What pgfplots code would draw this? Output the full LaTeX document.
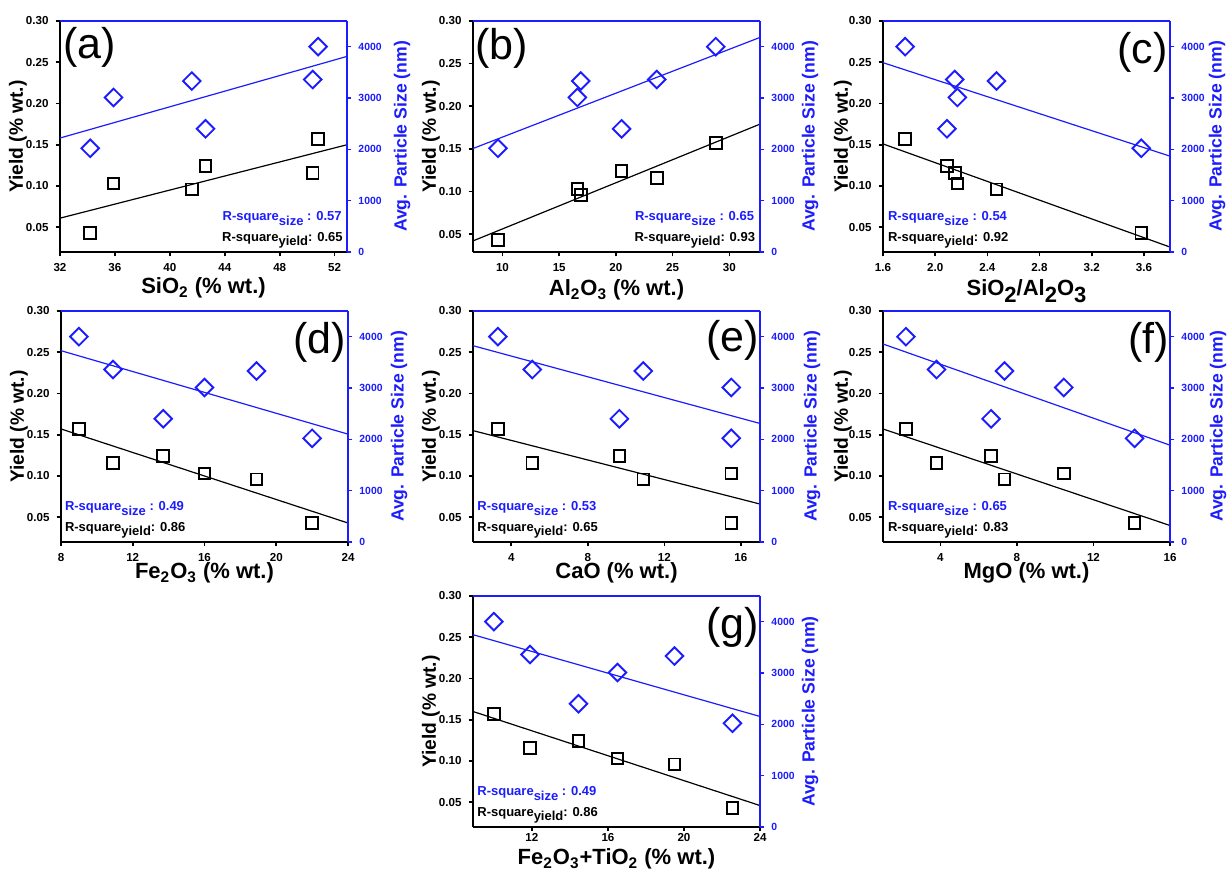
\documentclass[border=0pt]{standalone}
\usepackage{fontspec}
\setmainfont{Liberation Sans}
\usepackage{pgfplots}
\usepackage{pgfplotstable}
\pgfplotsset{compat=1.18}
\definecolor{myblue}{RGB}{28,28,255}
\newcommand\tickfont{\bfseries\fontsize{5.8}{6}\selectfont}
\newcommand\tickfontr{\bfseries\fontsize{5.2}{6}\selectfont}
\newcommand\labfont{\bfseries\fontsize{9.6}{10}\selectfont}
\newcommand\labfontr{\bfseries\fontsize{8.8}{10}\selectfont}
\newcommand\xlabfont{\bfseries\fontsize{11}{13}\selectfont}
\newcommand\rfont{\bfseries\fontsize{6.5}{7.5}\selectfont}
\newcommand\letterfont{\fontsize{21.5}{24}\selectfont}
\newcommand\sub[1]{\raisebox{-0.6ex}{#1}}
\newcommand\chem[1]{\textsubscript{#1}}

% columns: x = oxide content, y = yield (% wt.), s = avg. particle size (nm)
\pgfplotstableread{
x y s
34.2 0.043 2020
35.9 0.103 3010
41.6 0.096 3330
42.6 0.124 2400
50.4 0.116 3360
50.8 0.157 4000
}\tabA
\pgfplotstableread{
x y s
9.6 0.043 2020
16.6 0.103 3010
16.9 0.096 3330
20.5 0.124 2400
23.6 0.116 3360
28.8 0.157 4000
}\tabB
\pgfplotstableread{
x y s
3.58 0.043 2020
2.17 0.103 3010
2.47 0.096 3330
2.09 0.124 2400
2.15 0.116 3360
1.77 0.157 4000
}\tabC
\pgfplotstableread{
x y s
22.0 0.043 2020
16.0 0.103 3010
18.9 0.096 3330
13.7 0.124 2400
10.9 0.116 3360
9.0 0.157 4000
}\tabD
\pgfplotstableread{
x y s
15.5 0.043 2020
15.5 0.103 3010
10.9 0.096 3330
9.65 0.124 2400
5.1 0.116 3360
3.3 0.157 4000
}\tabE
\pgfplotstableread{
x y s
14.15 0.043 2020
10.45 0.103 3010
7.35 0.096 3330
6.65 0.124 2400
3.8 0.116 3360
2.2 0.157 4000
}\tabF
\pgfplotstableread{
x y s
22.55 0.043 2020
16.5 0.103 3010
19.5 0.096 3330
14.45 0.124 2400
11.9 0.116 3360
10.0 0.157 4000
}\tabG

\pgfplotsset{
  base/.style={scale only axis, width=143.5pt, height=115.5pt, anchor=north west,
    tick align=outside, major tick length=2.2pt,
    /pgf/number format/assume math mode=true,
    every outer x axis line/.append style={-},
    every outer y axis line/.append style={-},
    every inner x axis line/.append style={-},
    every inner y axis line/.append style={-},
    x axis line style={-}, y axis line style={-}},
  yieldax/.style={base, axis x line*=bottom, axis y line*=left,
    axis line style={line width=1pt, black, -},
    tick style={line width=0.8pt, black},
    ymin=0.02, ymax=0.30, ytick={0.05,0.10,0.15,0.20,0.25,0.30},
    yticklabel style={font=\tickfont, /pgf/number format/.cd, fixed, fixed zerofill, precision=2},
    xticklabel style={font=\tickfont},
    every axis y label/.style={at={(rel axis cs:0,0.5)}, xshift=#1, rotate=90, anchor=center, font=\labfont},
    every axis x label/.style={at={(rel axis cs:0.5,0)}, anchor=base, font=\xlabfont},
    ylabel={Yield (\% wt.)}},
  yieldax/.default=-21pt,
  sizeax/.style={base, axis x line*=top, axis y line*=right,
    axis line style={line width=1pt, myblue, -},
    tick style={line width=0.8pt, myblue},
    xtick=\empty,
    ymin=0, ymax=4500, ytick={0,1000,2000,3000,4000}, scaled y ticks=false,
    yticklabel style={font=\tickfontr, text=myblue, /pgf/number format/1000 sep={}},
    every axis y label/.style={at={(rel axis cs:1,0.5)}, xshift=#1, rotate=90, anchor=center, font=\labfontr, text=myblue},
    ylabel={Avg. Particle Size (nm)}},
  sizeax/.default=25pt,
  ym/.style={black, line width=0.95pt, only marks, mark=square, mark size=2.9pt},
  sm/.style={myblue, line width=0.95pt, only marks, mark=square, mark size=3.1pt, mark options={rotate=45}},
  yf/.style={black, line width=0.6pt, no marks},
  sf/.style={myblue, line width=0.6pt, no marks},
}

\begin{document}
\begin{tikzpicture}
\useasboundingbox (0,0) rectangle (613.5pt,-435pt);

% ---------------- (a)
\begin{axis}[yieldax, at={(30pt,-10.5pt)}, xmin=32, xmax=52.9, xtick={32,36,40,44,48,52},
  xlabel={SiO\chem{2} (\% wt.)}, xlabel style={yshift=-21pt}]
\addplot[yf] coordinates {(32,0.061) (52.9,0.150)};
\addplot[ym] table[x=x,y=y]{\tabA};
\node[anchor=north west, inner sep=0, font=\letterfont, xshift=1.5pt, yshift=-3pt] at (rel axis cs:0,1) {(a)};
\node[anchor=base east, inner sep=0, font=\rfont, text=myblue, xshift=-2.5pt, yshift=15.5pt] at (rel axis cs:1,0) {R-square\sub{size} : 0.57};
\node[anchor=base east, inner sep=0, font=\rfont, xshift=-2pt, yshift=5.3pt] at (rel axis cs:1,0) {R-square\sub{yield}: 0.65};
\end{axis}
\begin{axis}[sizeax=27.5pt, at={(30pt,-10.5pt)}, xmin=32, xmax=52.9]
\addplot[sf] coordinates {(32,2220) (52.9,3810)};
\addplot[sm] table[x=x,y=s]{\tabA};
\end{axis}

% ---------------- (b)
\begin{axis}[yieldax, at={(236.5pt,-10.5pt)}, ymin=0.029, xmin=7.4, xmax=32.7, xtick={10,15,20,25,30},
  xlabel={Al\chem{2}O\chem{3} (\% wt.)}, xlabel style={yshift=-22pt}]
\addplot[yf] coordinates {(7.4,0.042) (32.7,0.179)};
\addplot[ym] table[x=x,y=y]{\tabB};
\node[anchor=north west, inner sep=0, font=\letterfont, xshift=1pt, yshift=-3.5pt] at (rel axis cs:0,1) {(b)};
\node[anchor=base east, inner sep=0, font=\rfont, text=myblue, xshift=-2.8pt, yshift=15.5pt] at (rel axis cs:1,0) {R-square\sub{size} : 0.65};
\node[anchor=base east, inner sep=0, font=\rfont, xshift=-2.3pt, yshift=5.3pt] at (rel axis cs:1,0) {R-square\sub{yield}: 0.93};
\end{axis}
\begin{axis}[sizeax=25pt, at={(236.5pt,-10.5pt)}, xmin=7.4, xmax=32.7]
\addplot[sf] coordinates {(7.4,2016) (32.7,4180)};
\addplot[sm] table[x=x,y=s]{\tabB};
\end{axis}

% ---------------- (c)
\begin{axis}[yieldax=-20pt, at={(441.5pt,-10.5pt)}, xmin=1.6, xmax=3.8, xtick={1.6,2.0,2.4,2.8,3.2,3.6},
  xticklabel style={/pgf/number format/.cd, fixed, fixed zerofill, precision=1},
  xlabel={SiO\sub{2}/Al\sub{2}O\sub{3}}, xlabel style={yshift=-22pt}]
\addplot[yf] coordinates {(1.6,0.151) (3.8,0.026)};
\addplot[ym] table[x=x,y=y]{\tabC};
\node[anchor=north east, inner sep=0, font=\letterfont, xshift=-1pt, yshift=-5.5pt] at (rel axis cs:1,1) {(c)};
\node[anchor=base west, inner sep=0, font=\rfont, text=myblue, xshift=2.3pt, yshift=15.5pt] at (rel axis cs:0,0) {R-square\sub{size} : 0.54};
\node[anchor=base west, inner sep=0, font=\rfont, xshift=2.3pt, yshift=5.3pt] at (rel axis cs:0,0) {R-square\sub{yield}: 0.92};
\end{axis}
\begin{axis}[sizeax=23.5pt, at={(441.5pt,-10.5pt)}, xmin=1.6, xmax=3.8]
\addplot[sf] coordinates {(1.6,3688) (3.8,1867)};
\addplot[sm] table[x=x,y=s]{\tabC};
\end{axis}

% ---------------- (d)
\begin{axis}[yieldax, at={(30.5pt,-155.5pt)}, xmin=8, xmax=24, xtick={8,12,16,20,24},
  xlabel={Fe\chem{2}O\chem{3} (\% wt.)}, xlabel style={yshift=-18.5pt}]
\addplot[yf] coordinates {(8,0.157) (24,0.043)};
\addplot[ym] table[x=x,y=y]{\tabD};
\node[anchor=north east, inner sep=0, font=\letterfont, xshift=-1pt, yshift=-5.5pt] at (rel axis cs:1,1) {(d)};
\node[anchor=base west, inner sep=0, font=\rfont, text=myblue, xshift=1.8pt, yshift=15.5pt] at (rel axis cs:0,0) {R-square\sub{size} : 0.49};
\node[anchor=base west, inner sep=0, font=\rfont, xshift=1.8pt, yshift=5.3pt] at (rel axis cs:0,0) {R-square\sub{yield}: 0.86};
\end{axis}
\begin{axis}[sizeax=25.5pt, at={(30.5pt,-155.5pt)}, xmin=8, xmax=24]
\addplot[sf] coordinates {(8,3727) (24,2101)};
\addplot[sm] table[x=x,y=s]{\tabD};
\end{axis}

% ---------------- (e)
\begin{axis}[yieldax, at={(236.5pt,-155.5pt)}, xmin=2, xmax=17, xtick={4,8,12,16},
  xlabel={CaO (\% wt.)}, xlabel style={yshift=-18.5pt}]
\addplot[yf] coordinates {(2,0.155) (17,0.066)};
\addplot[ym] table[x=x,y=y]{\tabE};
\node[anchor=north east, inner sep=0, font=\letterfont, xshift=-0.5pt, yshift=-4.5pt] at (rel axis cs:1,1) {(e)};
\node[anchor=base west, inner sep=0, font=\rfont, text=myblue, xshift=2pt, yshift=15.5pt] at (rel axis cs:0,0) {R-square\sub{size} : 0.53};
\node[anchor=base west, inner sep=0, font=\rfont, xshift=2pt, yshift=5.3pt] at (rel axis cs:0,0) {R-square\sub{yield}: 0.65};
\end{axis}
\begin{axis}[sizeax=26pt, at={(236.5pt,-155.5pt)}, xmin=2, xmax=17]
\addplot[sf] coordinates {(2,3824) (17,2309)};
\addplot[sm] table[x=x,y=s]{\tabE};
\end{axis}

% ---------------- (f)
\begin{axis}[yieldax=-20pt, at={(441.5pt,-155.5pt)}, xmin=1, xmax=16, xtick={4,8,12,16},
  xlabel={MgO (\% wt.)}, xlabel style={yshift=-18.5pt}]
\addplot[yf] coordinates {(1,0.157) (16,0.040)};
\addplot[ym] table[x=x,y=y]{\tabF};
\node[anchor=north east, inner sep=0, font=\letterfont, xshift=-0.5pt, yshift=-5.5pt] at (rel axis cs:1,1) {(f)};
\node[anchor=base west, inner sep=0, font=\rfont, text=myblue, xshift=2.3pt, yshift=15.5pt] at (rel axis cs:0,0) {R-square\sub{size} : 0.65};
\node[anchor=base west, inner sep=0, font=\rfont, xshift=2.3pt, yshift=5.3pt] at (rel axis cs:0,0) {R-square\sub{yield}: 0.83};
\end{axis}
\begin{axis}[sizeax=24pt, at={(441.5pt,-155.5pt)}, xmin=1, xmax=16]
\addplot[sf] coordinates {(1,3857) (16,1886)};
\addplot[sm] table[x=x,y=s]{\tabF};
\end{axis}

% ---------------- (g)
\begin{axis}[yieldax, at={(236.5pt,-298pt)}, xmin=8.9, xmax=24, xtick={12,16,20,24},
  xticklabel style={yshift=2.5pt},
  xlabel={Fe\chem{2}O\chem{3}+TiO\chem{2} (\% wt.)}, xlabel style={yshift=-19pt}]
\addplot[yf] coordinates {(8.9,0.160) (24,0.046)};
\addplot[ym] table[x=x,y=y]{\tabG};
\node[anchor=north east, inner sep=0, font=\letterfont, xshift=-0.5pt, yshift=-5.3pt] at (rel axis cs:1,1) {(g)};
\node[anchor=base west, inner sep=0, font=\rfont, text=myblue, xshift=2pt, yshift=15.5pt] at (rel axis cs:0,0) {R-square\sub{size} : 0.49};
\node[anchor=base west, inner sep=0, font=\rfont, xshift=2pt, yshift=5.3pt] at (rel axis cs:0,0) {R-square\sub{yield}: 0.86};
\end{axis}
\begin{axis}[sizeax=25pt, at={(236.5pt,-298pt)}, xmin=8.9, xmax=24]
\addplot[sf] coordinates {(8.9,3746) (24,2153)};
\addplot[sm] table[x=x,y=s]{\tabG};
\end{axis}
\end{tikzpicture}
\end{document}
